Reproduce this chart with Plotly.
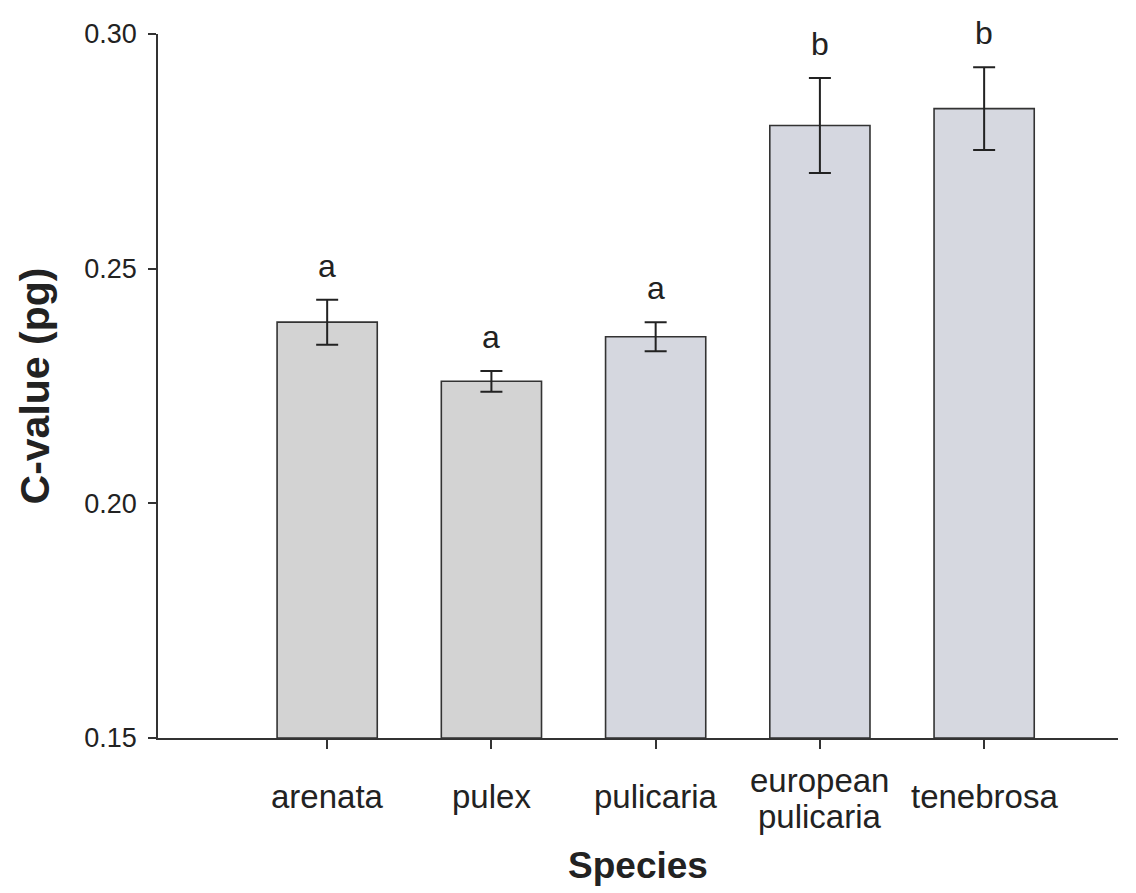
import plotly.graph_objects as go

species = ["arenata", "pulex", "pulicaria", "european<br>pulicaria", "tenebrosa"]
c_values = [0.2386, 0.2260, 0.2355, 0.2805, 0.2841]
errors = [0.0048, 0.0022, 0.0031, 0.0101, 0.0088]
groups = ["a", "a", "a", "b", "b"]
bar_colors = ["#d3d3d3", "#d3d3d3", "#d5d7df", "#d5d7e0", "#d6d8e0"]
y_ticks = [0.15, 0.20, 0.25, 0.30]

xpos = list(range(len(species)))
font = "Liberation Sans, Arial, sans-serif"

fig = go.Figure()
fig.add_trace(go.Bar(
    x=xpos, y=[v - 0.15 for v in c_values], base=0.15,
    width=0.61,
    marker=dict(color=bar_colors, line=dict(color="#333333", width=1.6)),
    error_y=dict(type="data", array=errors, color="#222222", thickness=2, width=11),
    showlegend=False,
))

for x, v, e, g in zip(xpos, c_values, errors, groups):
    fig.add_annotation(x=x, y=v + e, xref="x", yref="y", text=g, showarrow=False,
                       yanchor="middle", yshift=34,
                       font=dict(family=font, size=32, color="#222222"))

line_gap = 36
for x, s in zip(xpos, species):
    lines = s.split("<br>")
    n = len(lines)
    for i, ln in enumerate(lines):
        shift = ((n - 1) / 2 - i) * line_gap - (2 if n > 1 else 0)
        fig.add_annotation(x=x, y=-0.0838, xref="x", yref="paper", text=ln, showarrow=False,
                           yanchor="middle", xanchor="center", yshift=shift,
                           font=dict(family=font, size=33, color="#222222"))

fig.update_layout(
    width=1136, height=893,
    margin=dict(l=158, r=18, t=34, b=155),
    plot_bgcolor="white", paper_bgcolor="white",
    font=dict(family=font, color="#222222"),
    xaxis=dict(
        range=[-1.03, 4.815], tickmode="array", tickvals=xpos, ticktext=[""] * len(xpos),
        showline=True, linecolor="#333333", linewidth=1.5,
        ticks="outside", ticklen=9, tickwidth=1.5, tickcolor="#333333",
        showgrid=False, zeroline=False,
        title=dict(text="<b>Species</b>", font=dict(family=font, size=37, color="#222222"), standoff=102),
    ),
    yaxis=dict(
        range=[0.15, 0.30], tickvals=y_ticks, ticktext=[f"{t:.2f}" for t in y_ticks],
        showline=True, linecolor="#333333", linewidth=1.5,
        ticks="outside", ticklen=8, tickwidth=1.5, tickcolor="#333333",
        ticklabelstandoff=6,
        tickfont=dict(family=font, size=27, color="#222222"),
        showgrid=False, zeroline=False,
        title=dict(text="<b>C-value (pg)</b>", font=dict(family=font, size=41, color="#222222"), standoff=22),
    ),
)

fig.write_html("out.html")
